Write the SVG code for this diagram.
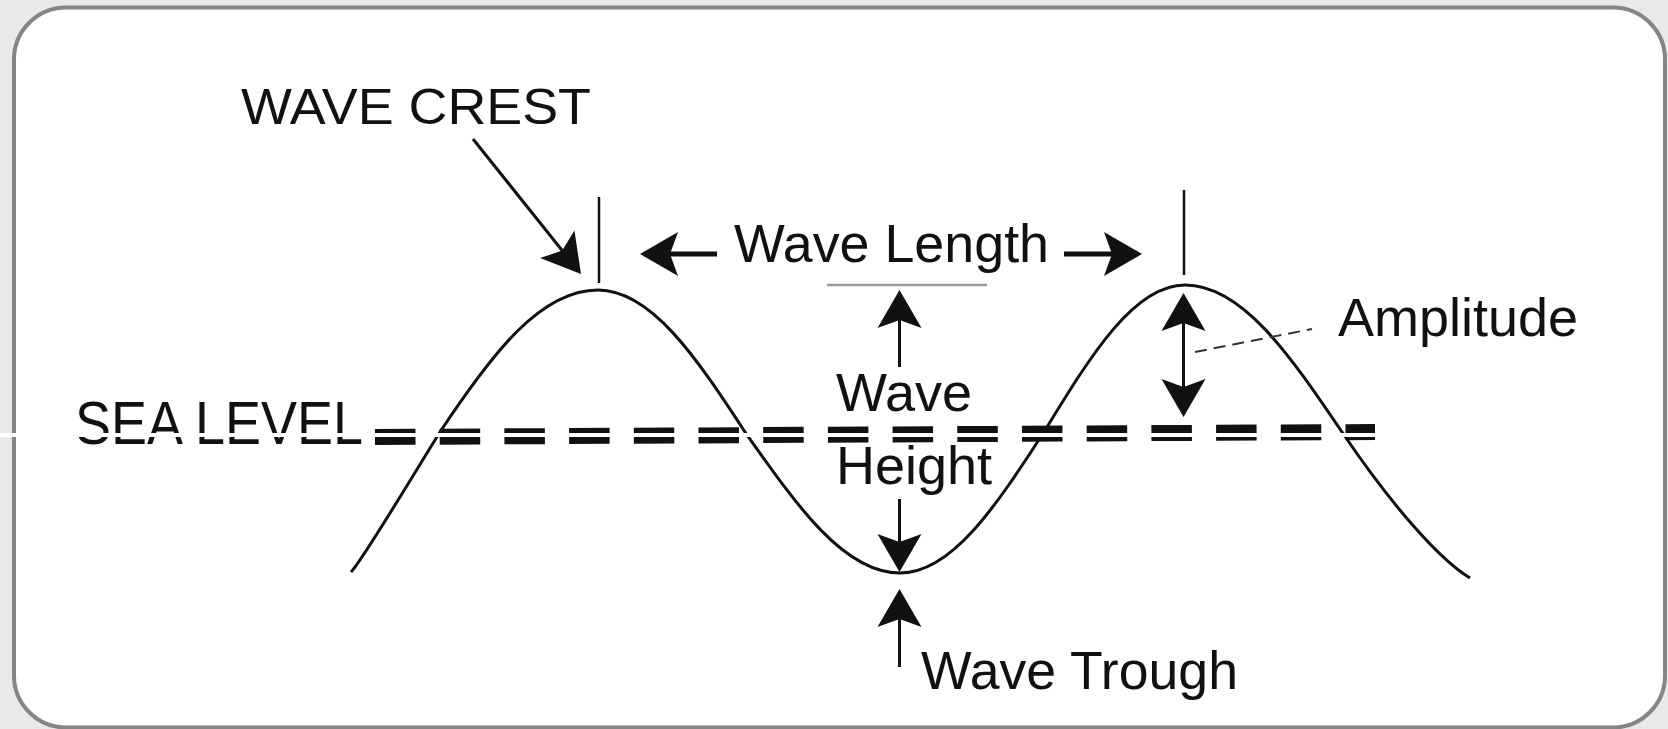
<svg xmlns="http://www.w3.org/2000/svg" width="1668" height="729" viewBox="0 0 1668 729">
<style>
.lbl{font-family:"Liberation Sans",Arial,Helvetica,sans-serif;fill:#111;}
.ln{fill:none;stroke:#111;stroke-linecap:butt;}
</style>
<defs>
<marker id="ah" markerUnits="userSpaceOnUse" markerWidth="40" markerHeight="46" refX="34" refY="22" orient="auto-start-reverse" overflow="visible">
<path d="M38,22 L0,0 L8,22 L0,44 Z" fill="#111"/>
</marker>
</defs>
<rect x="0" y="0" width="1668" height="729" fill="#e9e9e9"/>
<g id="frame">
<rect x="14" y="7.5" width="1651" height="720" rx="52" ry="52" fill="#fff" stroke="#858585" stroke-width="4"/>
</g>
<g id="wave">
<path class="ln" stroke-width="3" d="M351,572 C362,561 415,472 440,432 C493,352 541,290 598,290 C651,290 696,357 745,432 C797,506 844,573 900,573 C952,573 996,506 1044,432 C1091,355 1134,285 1185,285 C1242,285 1290,355 1342,432 C1392,506 1440,560 1470,578"/>
</g>
<g id="sea-level">
<line x1="375" y1="437" x2="1375" y2="432" stroke="#111" stroke-width="16" stroke-dasharray="40.5 24.2"/>
<text class="lbl" x="75" y="444" font-size="62" textLength="288" lengthAdjust="spacingAndGlyphs">SEA LEVEL</text>
</g>
<g id="wave-crest">
<text class="lbl" x="241" y="124" font-size="50" textLength="350" lengthAdjust="spacingAndGlyphs">WAVE CREST</text>
</g>
<g id="wave-length">
<text class="lbl" x="734" y="262" font-size="54" textLength="315" lengthAdjust="spacingAndGlyphs">Wave Length</text>
</g>
<g id="wave-height">
<text class="lbl" x="836" y="411" font-size="54">Wave</text>
<text class="lbl" x="836" y="484" font-size="54">Height</text>
</g>
<g id="amplitude">
<text class="lbl" x="1338" y="336" font-size="54">Amplitude</text>
</g>
<g id="wave-trough">
<text class="lbl" x="921" y="689" font-size="53" textLength="317" lengthAdjust="spacingAndGlyphs">Wave Trough</text>
</g>
<g id="connectors">
<line class="ln" x1="599" y1="197" x2="599" y2="283" stroke-width="2.5"/>
<line class="ln" x1="1184" y1="190" x2="1184" y2="275" stroke-width="2.5"/>
<line x1="827" y1="285" x2="987" y2="285" stroke="#999" stroke-width="2.5"/>
<line class="ln" x1="473" y1="139" x2="578.5" y2="270.9" stroke-width="3" marker-end="url(#ah)"/>
<line class="ln" x1="717" y1="254" x2="644" y2="254" stroke-width="5" marker-end="url(#ah)"/>
<line class="ln" x1="1064" y1="254" x2="1138" y2="254" stroke-width="5" marker-end="url(#ah)"/>
<line class="ln" x1="899.5" y1="367" x2="899.5" y2="294" stroke-width="3" marker-end="url(#ah)"/>
<line class="ln" x1="899.5" y1="499" x2="899.5" y2="568" stroke-width="3" marker-end="url(#ah)"/>
<line class="ln" x1="899.5" y1="667" x2="899.5" y2="593" stroke-width="3" marker-end="url(#ah)"/>
<line class="ln" x1="1183.5" y1="297" x2="1183.5" y2="413" stroke-width="3" marker-start="url(#ah)" marker-end="url(#ah)"/>
<line x1="1195" y1="352" x2="1312" y2="329" stroke="#333" stroke-width="2" stroke-dasharray="12 7"/>
</g>
<rect x="0" y="433" width="1380" height="4" fill="#fff"/>
</svg>
